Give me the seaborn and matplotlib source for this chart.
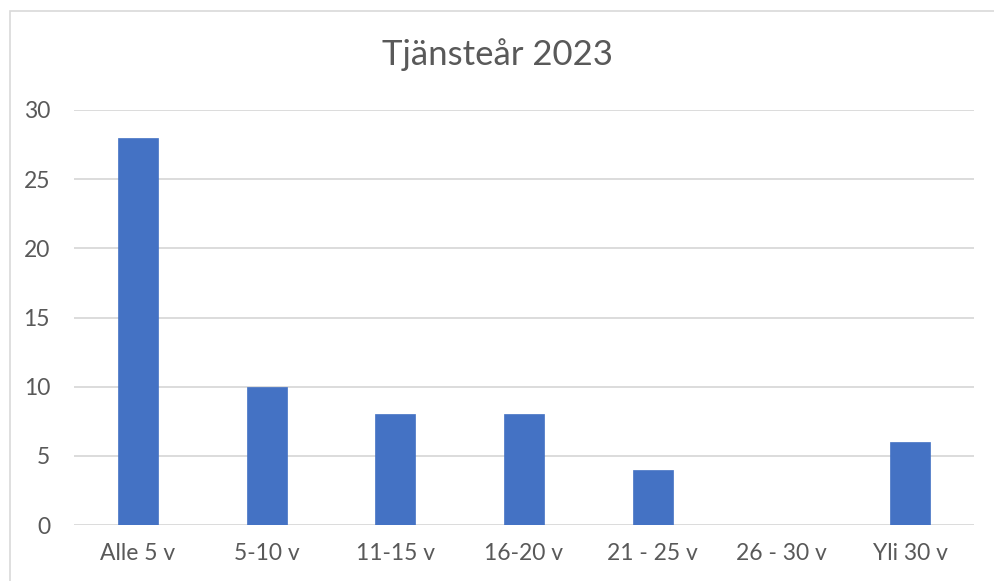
import matplotlib
matplotlib.use("Agg")
import matplotlib.pyplot as plt
from matplotlib.patches import Rectangle
import seaborn as sns
import pandas as pd

categories = ["Alle 5 v", "5-10 v", "11-15 v", "16-20 v", "21 - 25 v", "26 - 30 v", "Yli 30 v"]
values = [28, 10, 8, 8, 4, 0, 6]
title = "Tjänsteår 2023"
yticks = [0, 5, 10, 15, 20, 25, 30]

sns.set_theme(style="white")
plt.rcParams['font.family'] = ['Lato', 'DejaVu Sans']

W, H = 995, 581
fig = plt.figure(figsize=(W / 100, H / 100), dpi=100)
left, right, top, bottom = 73.7, 974.3, 110, 525
ax = fig.add_axes([left / W, 1 - bottom / H, (right - left) / W, (bottom - top) / H])

df = pd.DataFrame({"cat": categories, "val": values})
sns.barplot(data=df, x="cat", y="val", color="#4472C4", saturation=1, width=0.31, ax=ax,
            zorder=3, edgecolor="#4472C4", linewidth=0.5)

ax.set_ylim(0, 30)
ax.set_xlim(-0.5, len(categories) - 0.5)
ax.set_yticks(yticks)
ax.set_yticklabels([str(t) for t in yticks])
ax.yaxis.grid(True, color="#D9D9D9", linewidth=1.3, zorder=0)
ax.set_axisbelow(True)
for s in ax.spines.values():
    s.set_visible(False)
ax.set_xlabel("")
ax.set_ylabel("")
ax.tick_params(axis="both", length=0, labelsize=16.5, colors="#595959")
ax.tick_params(axis="x", pad=13)
ax.tick_params(axis="y", pad=17)

fig.text(0.5, 1 - 55 / H, title, ha="center", va="center", fontsize=25, color="#595959")

fig.patches.append(Rectangle((10 / W, -0.5), 2, 1.5 - 11 / H, transform=fig.transFigure,
                             fill=False, edgecolor="#D9D9D9", linewidth=1.2))

fig.savefig("out.png", dpi=100)
